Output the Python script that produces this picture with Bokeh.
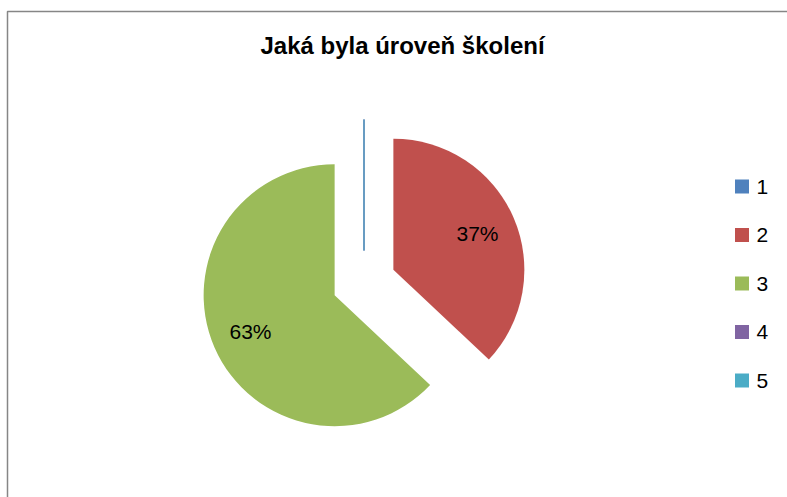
import math
from bokeh.plotting import figure
from bokeh.models import Range1d
from bokeh.core.properties import value
from bokeh.embed import file_html
from bokeh.resources import INLINE

# ---- data ----
title = "Jaká byla úroveň školení"
categories = ["1", "2", "3", "4", "5"]
values = [0, 37, 63, 0, 0]
colors = ["#4F81BD", "#C0504D", "#9BBB59", "#8064A2", "#4BACC6"]

# ---- layout (screen pixels) ----
W, H = 787, 497
CX, CY = 363.5, 282.0     # pie centre (screen)
R = 131.0                 # radius
EXPLODE = 32.0            # explosion offset
LABEL_R = 0.70 * R

def Y(sy):
    return H - sy

p = figure(width=W, height=H, x_range=Range1d(0, W), y_range=Range1d(0, H),
           output_backend="svg", toolbar_location=None, min_border=0,
           x_axis_type=None, y_axis_type=None)
p.grid.visible = False
p.outline_line_color = None
p.background_fill_color = "white"
p.border_fill_color = "white"

# chart border (partially outside the window)
p.line(x=[7, 7, W + 20], y=[Y(H + 20), Y(11), Y(11)], line_color="#868686", line_width=1.5)

total = float(sum(values))
theta = 0.0
zero_lines = []
for cat, v, col in zip(categories, values, colors):
    t1 = theta
    t2 = theta + v / total * 360.0
    tm = (t1 + t2) / 2.0
    dx = math.sin(math.radians(tm)) * EXPLODE
    dy = math.cos(math.radians(tm)) * EXPLODE
    vx, vy = CX + dx, Y(CY) + dy
    if v > 0:
        p.wedge(x=[vx], y=[vy], radius=R,
                start_angle=math.radians(90 - t2), end_angle=math.radians(90 - t1),
                fill_color=col, line_color=None)
        lx = vx + math.sin(math.radians(tm)) * LABEL_R
        ly = vy + math.cos(math.radians(tm)) * LABEL_R
        p.text(x=[lx], y=[ly], text=[f"{round(v / total * 100)}%"],
               text_font=value("Liberation Sans"), text_font_size="21px",
               text_color="black", text_align="center", text_baseline="middle")
    else:
        zero_lines.append((vx, vy, t1, col))
    theta = t2

for vx, vy, t, col in zero_lines:
    ex = vx + math.sin(math.radians(t)) * R
    ey = vy + math.cos(math.radians(t)) * R
    p.line(x=[vx, ex], y=[vy, ey], line_color=col, line_width=2, line_alpha=0.55)

# title
p.text(x=[402], y=[Y(45)], text=[title], text_font=value("Liberation Sans"),
       text_font_style="bold", text_font_size="24px", text_color="black",
       text_align="center", text_baseline="middle")

# legend
leg_y = [Y(186 + 48.5 * i) for i in range(len(categories))]
p.scatter(x=[741.5] * len(categories), y=leg_y, marker="square", size=14,
          fill_color=colors, line_color=None)
p.text(x=[756] * len(categories), y=leg_y, text=categories,
       text_font=value("Liberation Sans"), text_font_size="21px",
       text_color="black", text_align="left", text_baseline="middle")

open("out.html", "w").write(file_html(p, INLINE))
